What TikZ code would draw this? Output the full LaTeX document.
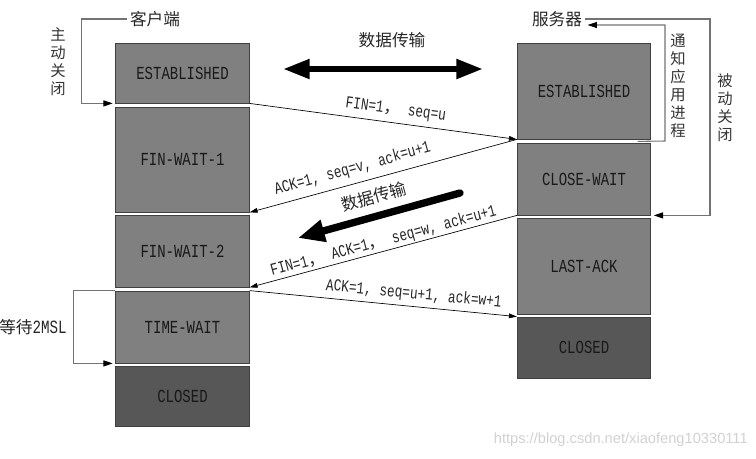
\documentclass[tikz,border=0pt]{standalone}
\usepackage{fontspec}
\setmainfont{Liberation Mono}
\newfontfamily\narrowfont[FakeStretch=0.76]{Liberation Mono}
\newfontfamily\cjk{Noto Sans CJK SC}
\newfontfamily\wmfont{Liberation Sans}
\usetikzlibrary{arrows.meta}

\tikzset{
	state/.style={draw=black!75, line width=0.6pt, fill=black!50, text=black!90, minimum width=100pt, inner sep=0pt, font=\narrowfont\fontsize{13.8}{15}\selectfont},
	closed/.style={state, fill=black!66},
	msg/.style={line width=0.5pt, -{Triangle[length=6pt,width=3.5pt]}},
	msglbl/.style={sloped, inner sep=0pt, font=\narrowfont\fontsize{12.6}{14}\selectfont, text=black!85},
	bracket/.style={line width=0.8pt, draw=black!55, -{Triangle[length=7pt,width=4.5pt,color=black]}, shorten >=2pt},
	fat/.style={line width=4.5pt, {Triangle[length=20pt,width=14pt]}-{Triangle[length=20pt,width=14pt]}},
	fatone/.style={line width=5.5pt, line cap=round, -{Triangle[length=20pt,width=16pt]}},
	cjklbl/.style={font=\cjk\fontsize{12.5}{14}\selectfont, text=black!85, inner sep=2pt},
	vlbl/.style={align=center, font=\cjk\fontsize{11.5}{13.5}\selectfont, text=black!80, inner sep=0pt},
	wm/.style={font=\wmfont\fontsize{11}{13}\selectfont, text=black!18, inner sep=0pt}
}

\begin{document}
\begin{tikzpicture}[x=0.75pt, y=-0.75pt]
	%%%%% START %%%%%
	\useasboundingbox (0,0) rectangle (756,458);
	
	% client side
	\node[state, minimum height=45pt] (cEst) at (182.5,73) {ESTABLISHED};
	\node[state, minimum height=78.75pt] (cFw1) at (182.5,159.5) {FIN-WAIT-1};
	\node[state, minimum height=54pt] (cFw2) at (182.5,251) {FIN-WAIT-2};
	\node[state, minimum height=54pt] (cTw) at (182.5,327) {TIME-WAIT};
	\node[closed, minimum height=45pt] (cCl) at (182.5,396) {CLOSED};
	
	% server side
	\node[state, minimum height=72pt] (sEst) at (584,91) {ESTABLISHED};
	\node[state, minimum height=54pt] (sCw) at (584,179) {CLOSE-WAIT};
	\node[state, minimum height=72pt] (sLa) at (584,266) {LAST-ACK};
	\node[closed, minimum height=45.75pt] (sCl) at (584,347.5) {CLOSED};
	
	% titles and side notes
	\node[cjklbl] (cLbl) at (155,19) {客户端};
	\node[cjklbl] (sLbl) at (557,19) {服务器};
	\node[vlbl] (cClose) at (58,62) {主\\动\\关\\闭};
	\node[vlbl] (sNotify) at (678,86) {通\\知\\应\\用\\进\\程};
	\node[vlbl] (sClose) at (725,108) {被\\动\\关\\闭};
	\node[cjklbl, inner sep=0pt] (wait) at (33,327) {等待{\narrowfont\fontsize{14}{15}\selectfont 2MSL}};
	
	\draw[bracket] (cLbl.west) -- ++(-46,0) |- (cEst.south west);
	\draw[bracket] (cTw.north west) -- ++(-42,0) |- (cTw.south west);
	\draw[bracket] ([xshift=-10pt,yshift=-1.5pt]sEst.south east) -- (665,141) |- ([yshift=-4.5pt]sLbl.east);
	\draw[bracket] (sLbl.east) -- (710,19) |- (sCw.south east);
	
	% data transfer
	\node[cjklbl] (dLbl) at (392,40) {数据传输};
	\coordinate (dL) at (283,69);
	\coordinate (dR) at (483,69);
	\draw[fat] (dL) -- (dR);
	
	\coordinate (mT) at (460,193);
	\coordinate (mH) at (298,238);
	\draw[fatone] (mT) -- node[cjklbl, sloped, inner sep=0pt, above=6pt, pos=0.5] (mLbl) {数据传输} (mH);
	
	% messages
	\draw[msg] (cEst.south east) -- node[msglbl, above=4pt, pos=0.54] (m1) {FIN=1{\cjk ，} seq=u} (sEst.south west);
	\draw[msg] (sEst.south west) -- node[msglbl, above=5pt, pos=0.6] (m2) {ACK=1, seq=v, ack=u+1} (cFw1.south east);
	\draw[msg] (sCw.south west) -- node[msglbl, above=1pt, pos=0.49] (m3) {FIN=1{\cjk ，} ACK=1{\cjk ，} seq=w, ack=u+1} (cFw2.south east);
	\draw[msg] (cTw.north east) -- node[msglbl, above=3pt, pos=0.61] (m4) {ACK=1, seq=u+1, ack=w+1} (sCl.north west);
	
	\node[wm, anchor=east] (wmark) at (748,440) {https://blog.csdn.net/xiaofeng10330111};
	%%%%% END %%%%%
\end{tikzpicture}
\end{document}
